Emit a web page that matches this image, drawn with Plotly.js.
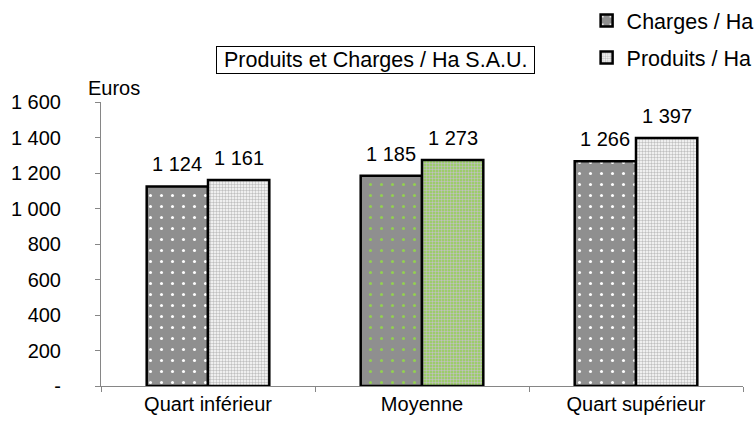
<!DOCTYPE html>
<html>
<head>
<meta charset="utf-8">
<script src="https://cdn.plot.ly/plotly-3.0.1.min.js"></script>
<style>html,body{margin:0;padding:0;background:#fff;} #chart{width:754px;height:421px;}</style>
</head>
<body>
<div id="chart"></div>
<script>
const categories = ["Quart inférieur", "Moyenne", "Quart supérieur"];
const charges = [1124, 1185, 1266];
const produits = [1161, 1273, 1397];
const yTickVals = [0, 200, 400, 600, 800, 1000, 1200, 1400, 1600];
const yTickText = ["-", "200", "400", "600", "800", "1 000", "1 200", "1 400", "1 600"];
const seriesNames = ["Charges / Ha", "Produits / Ha"];
const chartTitle = "Produits et Charges / Ha S.A.U.";
const yUnit = "Euros";

const FONT = "Liberation Sans, Arial, sans-serif";
const fmt = v => String(v).replace(/\B(?=(\d{3})+(?!\d))/g, " ");
const BARGAP = 0.427;
const barW = (1 - BARGAP) / 2;

const traceCharges = {
  type: "bar",
  name: seriesNames[0],
  legendgroup: "c",
  x: categories,
  y: charges,
  marker: {
    color: "#8f8f8f",
    line: {color: "#000", width: 2.5},
    pattern: {
      shape: ".",
      bgcolor: "#8f8f8f",
      fgcolor: ["#ffffff", "#92d050", "#ffffff"],
      fgopacity: 1,
      size: 11,
      solidity: 0.06
    }
  }
};
const traceProduits = {
  type: "bar",
  name: seriesNames[1],
  legendgroup: "p",
  x: categories,
  y: produits,
  marker: {
    color: "#e0e0e0",
    line: {color: "#000", width: 2.5},
    pattern: {
      shape: ".",
      bgcolor: ["#ffffff", "#92d050", "#ffffff"],
      fgcolor: ["#c0c0c0", "#c0c0c0", "#c0c0c0"],
      fgopacity: 1,
      size: 3,
      solidity: 0.5
    }
  }
};

const labelAnns = [];
categories.forEach((c, i) => {
  labelAnns.push({x: i - barW / 2, y: charges[i], text: fmt(charges[i])});
  labelAnns.push({x: i + barW / 2, y: produits[i], text: fmt(produits[i])});
});

const layout = {
  width: 754,
  height: 421,
  margin: {l: 101, r: 11, t: 102, b: 35, pad: 0, autoexpand: false},
  paper_bgcolor: "#fff",
  plot_bgcolor: "#fff",
  font: {family: FONT, size: 20, color: "#000"},
  separators: ", ",
  barmode: "group",
  bargap: BARGAP,
  bargroupgap: 0,
  showlegend: true,
  legend: {
    xref: "container", yref: "container",
    x: 0.778, y: 1.012, xanchor: "left", yanchor: "top",
    font: {family: FONT, size: 21.5, color: "#000"},
    bgcolor: "rgba(0,0,0,0)",
    traceorder: "grouped",
    tracegroupgap: 6,
    itemwidth: 30
  },
  xaxis: {
    type: "category",
    range: [-0.5, 2.5],
    showline: true, linecolor: "#868686", linewidth: 1,
    ticks: "outside", tickson: "boundaries", ticklen: 5, tickcolor: "#868686", tickwidth: 1,
    showgrid: false, zeroline: false,
    tickfont: {family: FONT, size: 20, color: "#000"},
    automargin: false
  },
  yaxis: {
    range: [0, 1600],
    tickvals: yTickVals, ticktext: yTickText,
    showline: true, linecolor: "#868686", linewidth: 1,
    ticks: "outside", ticklen: 5, tickcolor: "#868686", tickwidth: 1,
    ticklabelstandoff: 30,
    showgrid: false, zeroline: false,
    tickfont: {family: FONT, size: 20, color: "#000"},
    automargin: false
  },
  annotations: [
    {
      text: "\u00a0" + chartTitle + "\u00a0", xref: "paper", yref: "paper",
      x: (375 - 101) / 642, y: 1 + (102 - 60) / 284, xanchor: "center", yanchor: "middle",
      showarrow: false, font: {family: FONT, size: 21.5, color: "#000"},
      bordercolor: "#000", borderwidth: 1, borderpad: 1, bgcolor: "#fff"
    },
    {
      text: yUnit, xref: "paper", yref: "paper",
      x: (114 - 101) / 642, y: 1 + (102 - 88) / 284, xanchor: "center", yanchor: "middle",
      showarrow: false, font: {family: FONT, size: 20, color: "#000"}
    }
  ].concat(labelAnns.map(a => ({
    x: a.x, y: a.y, xref: "x", yref: "y", text: a.text,
    xanchor: "center", yanchor: "bottom", yshift: 9, showarrow: false,
    font: {family: FONT, size: 20, color: "#000"}
  })))
};

Plotly.newPlot("chart", [traceCharges, traceProduits], layout, {displayModeBar: false, staticPlot: true});
</script>
</body>
</html>
